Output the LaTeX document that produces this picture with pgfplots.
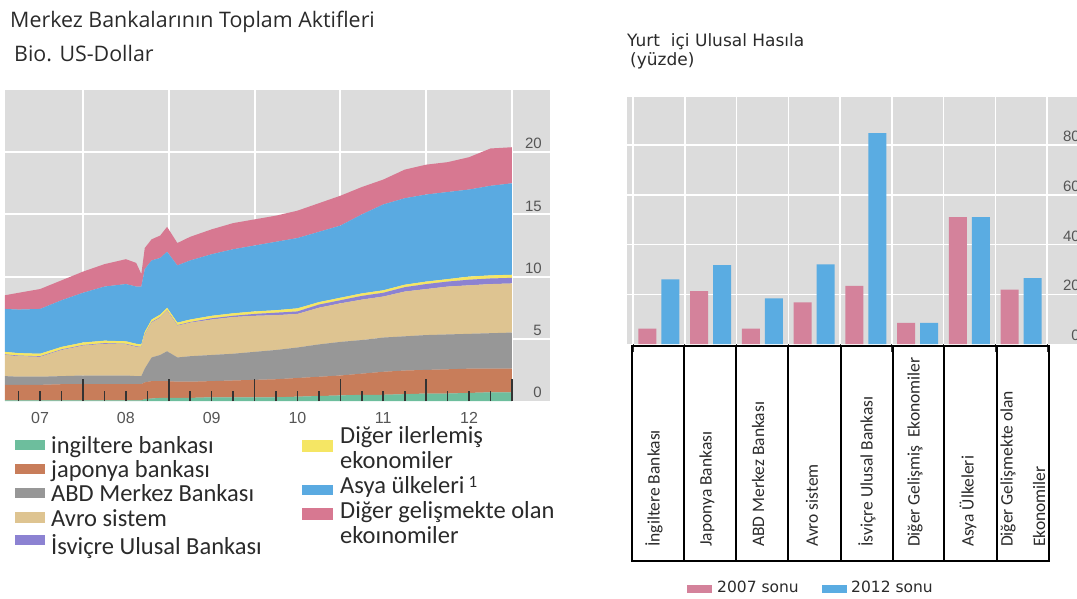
\documentclass[border=0pt]{standalone}
\usepackage{fontspec}
\usepackage{pgfplots}
\usepackage{pgfplotstable}
\pgfplotsset{compat=1.18}
\setmainfont{Carlito}
\newfontfamily\titlefont{Open Sans}
\newfontfamily\vfont{DejaVu Sans}
\newfontfamily\afont{Liberation Sans}

\definecolor{bggray}{HTML}{DCDCDC}
\definecolor{cgreen}{HTML}{6DBE9D}
\definecolor{corange}{HTML}{C87D5A}
\definecolor{cgray}{HTML}{979797}
\definecolor{ctan}{HTML}{DEC491}
\definecolor{cpurple}{HTML}{8C82D2}
\definecolor{cyellow}{HTML}{F5E664}
\definecolor{cblue}{HTML}{5AAAE1}
\definecolor{cpink}{HTML}{D77891}
\definecolor{bpink}{HTML}{D4829B}
\definecolor{bblue}{HTML}{5AACE2}
\definecolor{tickdark}{HTML}{333333}
\definecolor{labgray}{HTML}{555555}
\definecolor{txt}{HTML}{2A2A2A}

% stacked layers (Bio. US-Dollar), bottom to top
\pgfplotstableread{
t g o a tn p yl b k
2007.09 0.05 1.25 0.70 1.70 0.05 0.20 3.45 1.10
2007.25 0.05 1.25 0.65 1.65 0.05 0.20 3.50 1.35
2007.50 0.05 1.25 0.65 1.60 0.05 0.20 3.60 1.60
2007.75 0.05 1.30 0.65 2.10 0.05 0.20 3.75 1.60
2008.00 0.05 1.30 0.70 2.40 0.05 0.20 4.00 1.70
2008.25 0.05 1.30 0.70 2.55 0.05 0.20 4.35 1.80
2008.50 0.05 1.30 0.70 2.50 0.05 0.20 4.60 2.00
2008.62 0.05 1.30 0.65 2.35 0.05 0.20 4.60 1.90
2008.68 0.05 1.30 0.65 2.30 0.05 0.20 4.65 1.00
2008.72 0.15 1.35 1.10 2.70 0.05 0.20 5.05 1.70
2008.80 0.20 1.40 1.90 2.80 0.05 0.20 4.75 1.70
2008.90 0.25 1.35 2.10 3.00 0.05 0.20 4.55 1.80
2008.98 0.25 1.35 2.40 3.25 0.05 0.20 4.50 2.00
2009.10 0.25 1.30 1.95 2.55 0.05 0.20 4.60 1.80
2009.25 0.25 1.30 2.05 2.70 0.05 0.20 4.75 1.90
2009.50 0.30 1.30 2.10 2.85 0.10 0.20 4.95 2.00
2009.75 0.30 1.35 2.15 2.95 0.10 0.20 5.15 2.10
2010.00 0.30 1.40 2.25 2.90 0.15 0.20 5.30 2.10
2010.25 0.30 1.45 2.35 2.80 0.20 0.20 5.50 2.10
2010.50 0.35 1.50 2.45 2.70 0.20 0.25 5.65 2.20
2010.75 0.40 1.55 2.60 2.95 0.25 0.20 5.65 2.30
2011.00 0.45 1.60 2.70 3.10 0.25 0.20 5.80 2.40
2011.25 0.50 1.70 2.70 3.25 0.30 0.20 6.35 2.20
2011.50 0.50 1.85 2.75 3.30 0.30 0.20 6.90 2.00
2011.75 0.55 1.90 2.75 3.60 0.35 0.20 6.95 2.30
2012.00 0.60 1.90 2.80 3.70 0.40 0.20 7.00 2.40
2012.25 0.60 1.95 2.80 3.85 0.40 0.20 7.00 2.40
2012.50 0.65 1.95 2.80 3.90 0.45 0.25 7.00 2.60
2012.75 0.70 1.90 2.85 3.95 0.45 0.25 7.20 3.00
2013.00 0.70 1.90 2.90 3.95 0.45 0.25 7.35 2.90
}\assets

\newcommand\lgd{\fontsize{24.5}{28}\selectfont}
\newcommand\cat{\fontsize{17.5}{18}\selectfont}

\begin{document}
\begin{tikzpicture}
\useasboundingbox (0pt,0pt) rectangle (1077pt,-598pt);

% ---------------- left chart ----------------
\begin{axis}[
  at={(5pt,-401pt)}, anchor=south west,
  scale only axis, width=545pt, height=311pt,
  xmin=2007.091, xmax=2013.443, ymin=0, ymax=25,
  /pgf/number format/assume math mode=true,
  axis background/.style={fill=bggray},
  axis line style={draw=none},
  xtick={2008,2009,2010,2011,2012,2013}, xticklabels={},
  ytick={5,10,15,20}, extra y ticks={0}, extra y tick style={grid=none},
  ytick pos=right, yticklabel pos=right,
  major tick length=0pt,
  grid=major, major grid style={white, line width=2pt},
  yticklabel style={font=\afont\fontsize{15}{15}\selectfont, text=labgray, anchor=south east, inner sep=0pt, xshift=-8pt, yshift=3pt},
  stack plots=y,
]
\addplot[fill=cgreen, draw=none] table[x=t,y=g]{\assets} \closedcycle;
\addplot[fill=corange, draw=none] table[x=t,y=o]{\assets} \closedcycle;
\addplot[fill=cgray, draw=none] table[x=t,y=a]{\assets} \closedcycle;
\addplot[fill=ctan, draw=none] table[x=t,y=tn]{\assets} \closedcycle;
\addplot[fill=cpurple, draw=none] table[x=t,y=p]{\assets} \closedcycle;
\addplot[fill=cyellow, draw=none] table[x=t,y=yl]{\assets} \closedcycle;
\addplot[fill=cblue, draw=none] table[x=t,y=b]{\assets} \closedcycle;
\addplot[fill=cpink, draw=none] table[x=t,y=k]{\assets} \closedcycle;
\end{axis}

% overlay: tick marks and year labels
\begin{axis}[
  at={(5pt,-401pt)}, anchor=south west,
  scale only axis, width=545pt, height=311pt,
  xmin=2007.091, xmax=2013.443, ymin=0, ymax=25,
  /pgf/number format/assume math mode=true,
  axis line style={draw=none},
  ytick=\empty,
  xtick={2008,2009,2010,2011,2012,2013}, xticklabels={},
  minor xtick={2007.25,2007.5,2007.75,2008.25,2008.5,2008.75,2009.25,2009.5,2009.75,2010.25,2010.5,2010.75,2011.25,2011.5,2011.75,2012.25,2012.5,2012.75},
  xtick pos=left, tick align=inside,
  major tick length=22pt, minor tick length=10pt,
  tick style={line width=1.6pt, tickdark},
  extra x ticks={2007.5,2008.5,2009.5,2010.5,2011.5,2012.5},
  extra x tick labels={\mbox{07},\mbox{08},\mbox{09},\mbox{10},\mbox{11},\mbox{12}},
  extra x tick style={major tick length=0pt, tick style={draw=none}},
  xticklabel style={font=\afont\fontsize{16}{16}\selectfont, text=labgray, inner sep=0pt, anchor=north, yshift=-11pt},
]
\end{axis}

% titles left
\node[anchor=base west, inner sep=0pt, font=\titlefont\fontsize{21.4}{24}\selectfont, text=txt] at (10pt,-27pt) {Merkez Bankalarının Toplam Aktifleri};
\node[anchor=base west, inner sep=0pt, font=\titlefont\fontsize{21.4}{24}\selectfont, text=txt] at (14pt,-61pt) {Bio. US-Dollar};

% legend left
\fill[cgreen]  (15pt,-440pt) rectangle (45pt,-450pt);
\fill[corange] (15pt,-464pt) rectangle (45pt,-474pt);
\fill[cgray]   (15pt,-488pt) rectangle (45pt,-498pt);
\fill[ctan]    (15pt,-512pt) rectangle (45pt,-523pt);
\fill[cpurple] (15pt,-535pt) rectangle (45pt,-545pt);
\node[anchor=base west, inner sep=0pt, font=\lgd, text=txt] at (51pt,-453pt) {ingiltere bankası};
\node[anchor=base west, inner sep=0pt, font=\lgd, text=txt] at (51pt,-477pt) {japonya bankası};
\node[anchor=base west, inner sep=0pt, font=\lgd, text=txt] at (51pt,-501.7pt) {ABD Merkez Bankası};
\node[anchor=base west, inner sep=0pt, font=\lgd, text=txt] at (51pt,-526.7pt) {Avro sistem};
\node[anchor=base west, inner sep=0pt, font=\lgd, text=txt] at (51pt,-554pt) {İsviçre Ulusal Bankası};
\fill[cyellow] (302pt,-440pt) rectangle (333pt,-451.5pt);
\fill[cblue]   (302pt,-485pt) rectangle (333pt,-495pt);
\fill[cpink]   (302pt,-508pt) rectangle (333pt,-520pt);
\node[anchor=base west, inner sep=0pt, font=\lgd, text=txt] at (340pt,-443.3pt) {Diğer ilerlemiş};
\node[anchor=base west, inner sep=0pt, font=\lgd, text=txt] at (340pt,-468.3pt) {ekonomiler};
\node[anchor=base west, inner sep=0pt, font=\lgd, text=txt] at (340pt,-493.3pt) {Asya ülkeleri\hspace{4pt}\raisebox{6pt}{\fontsize{17}{17}\selectfont 1}};
\node[anchor=base west, inner sep=0pt, font=\lgd, text=txt] at (340pt,-518.3pt) {Diğer gelişmekte olan};
\node[anchor=base west, inner sep=0pt, font=\lgd, text=txt] at (340pt,-543.3pt) {ekoınomiler};

% ---------------- right chart ----------------
\begin{axis}[
  at={(627pt,-344pt)}, anchor=south west,
  scale only axis, width=463pt, height=247.5pt,
  xmin=-0.616, xmax=8.331, ymin=0, ymax=99.5,
  /pgf/number format/assume math mode=true,
  axis background/.style={fill=bggray},
  axis line style={draw=none},
  xtick={-0.5,0.5,1.5,2.5,3.5,4.5,5.5,6.5,7.5}, xticklabels={},
  ytick={20,40,60,80}, extra y ticks={0}, extra y tick style={grid=none},
  grid=major, major grid style={white, line width=1.5pt},
  ytick pos=right, yticklabel pos=right,
  xtick pos=left, tick align=inside, major tick length=8pt,
  tick style={line width=1pt, tickdark},
  yticklabel style={font=\afont\fontsize{15}{15}\selectfont, text=labgray, anchor=south east, inner sep=0pt, xshift=-10pt, yshift=3pt},
  ybar, bar width=18pt,
]
\addplot[fill=bpink, draw=none, bar shift=-11.5pt] coordinates {(0,6.2) (1,21.3) (2,6.2) (3,16.7) (4,23.4) (5,8.5) (6,51) (7,21.9)};
\addplot[fill=bblue, draw=none, bar shift=11.5pt] coordinates {(0,26) (1,31.7) (2,18.3) (3,32) (4,84.8) (5,8.5) (6,51) (7,26.5)};
\end{axis}

% right titles
\node[anchor=base west, inner sep=0pt, font=\vfont\fontsize{17}{19}\selectfont, text=txt] at (627pt,-46pt) {Yurt\ \ içi Ulusal Hasıla};
\node[anchor=base west, inner sep=0pt, font=\vfont\fontsize{17}{19}\selectfont, text=txt] at (630pt,-65pt) {(yüzde)};

% category table
\draw[line width=1.5pt, black] (632pt,-346pt) rectangle (1049pt,-561pt);
\foreach \xx in {684,736,788,841,893,944,997} \draw[line width=1.5pt, black] (\xx pt,-346pt) -- (\xx pt,-561pt);
\node[rotate=90, anchor=west, inner sep=0pt, font=\cat, text=txt] at (654pt,-547pt) {İngiltere Bankası};
\node[rotate=90, anchor=west, inner sep=0pt, font=\cat, text=txt] at (707pt,-547pt) {Japonya Bankası};
\node[rotate=90, anchor=west, inner sep=0pt, font=\cat, text=txt] at (758pt,-547pt) {ABD Merkez Bankası};
\node[rotate=90, anchor=west, inner sep=0pt, font=\cat, text=txt] at (812pt,-547pt) {Avro sistem};
\node[rotate=90, anchor=west, inner sep=0pt, font=\cat, text=txt] at (867pt,-547pt) {İsviçre Ulusal Bankası};
\node[rotate=90, anchor=west, inner sep=0pt, font=\cat, text=txt] at (915pt,-547pt) {Diğer Gelişmiş\ \ Ekonomiler};
\node[rotate=90, anchor=west, inner sep=0pt, font=\cat, text=txt] at (968pt,-547pt) {Asya Ülkeleri};
\node[rotate=90, anchor=west, inner sep=0pt, font=\cat, text=txt] at (1008pt,-547pt) {Diğer Gelişmekte olan};
\node[rotate=90, anchor=west, inner sep=0pt, font=\cat, text=txt] at (1039pt,-547pt) {Ekonomiler};

% bottom legend right
\fill[bpink] (687pt,-585pt) rectangle (712pt,-593pt);
\node[anchor=base west, inner sep=0pt, font=\vfont\fontsize{15.5}{17}\selectfont, text=txt] at (717pt,-592pt) {2007 sonu};
\fill[bblue] (822pt,-585pt) rectangle (847pt,-593pt);
\node[anchor=base west, inner sep=0pt, font=\vfont\fontsize{15.5}{17}\selectfont, text=txt] at (851pt,-592pt) {2012 sonu};
\end{tikzpicture}
\end{document}
